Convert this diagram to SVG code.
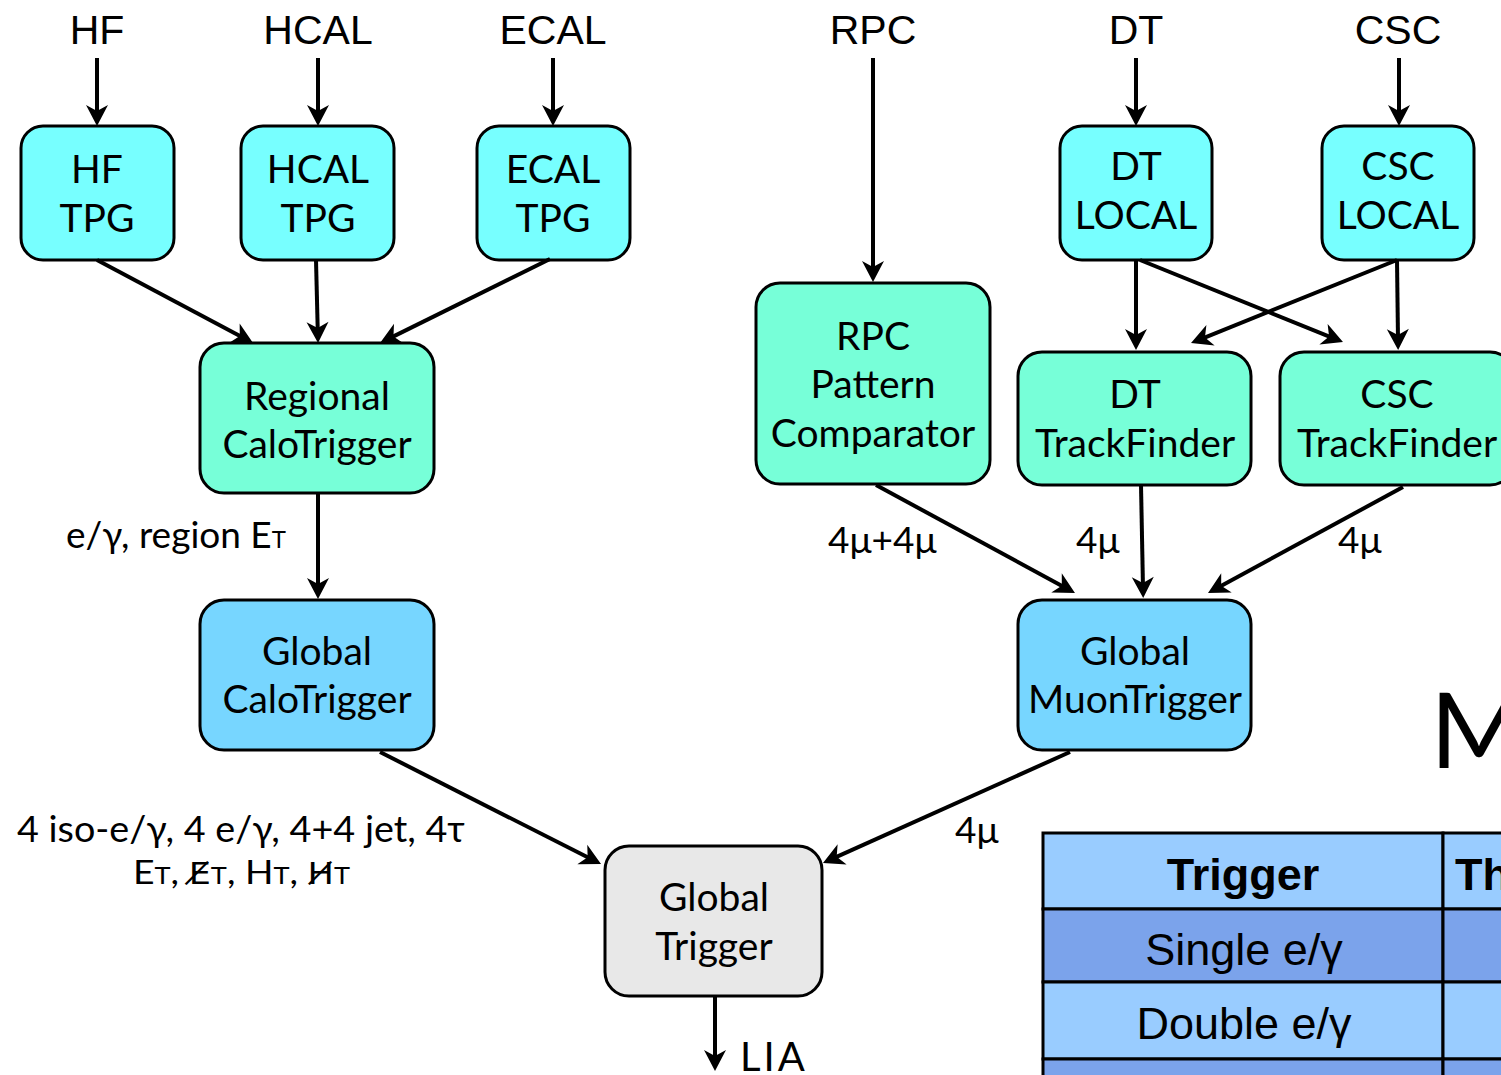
<svg xmlns="http://www.w3.org/2000/svg" width="1501" height="1075" viewBox="0 0 1501 1075">
<defs>
<style>
.box{stroke:#000;stroke-width:3}
.tpg{fill:#77ffff}
.mid{fill:#77ffd8}
.glb{fill:#77d6ff}
.gt{fill:#e8e8e8}
.bt{font-family:Lato,"Noto Sans","DejaVu Sans",sans-serif;font-size:39px;fill:#000;text-anchor:middle}
.src{font-family:"Liberation Sans",Arial,sans-serif;font-size:41px;fill:#000;text-anchor:middle}
.lbl{font-family:Lato,"Noto Sans","DejaVu Sans",sans-serif;font-size:37px;fill:#000}
.sub{font-size:24px}
.dj{font-family:"DejaVu Sans",sans-serif;font-size:31px}
.tbl{font-family:"Liberation Sans",Arial,sans-serif;font-size:45px;fill:#000;text-anchor:middle}
.conn line{stroke:#000;stroke-width:4;marker-end:url(#ah)}
.cell{stroke:#000;stroke-width:3}
</style>
<marker id="ah" markerUnits="userSpaceOnUse" markerWidth="24" markerHeight="24" viewBox="-22 -12 24 24" refX="-10" refY="0" orient="auto">
<path d="M0,0 L-21,-11 L-15,0 L-21,11 Z" fill="#000"/>
</marker>
</defs>
<rect width="1501" height="1075" fill="#fff"/>

<g id="sources">
<text class="src" x="97" y="44">HF</text>
<text class="src" x="318" y="44">HCAL</text>
<text class="src" x="553" y="44">ECAL</text>
<text class="src" x="873" y="44">RPC</text>
<text class="src" x="1136" y="44">DT</text>
<text class="src" x="1398" y="44">CSC</text>
</g>

<g id="hf-tpg"><rect class="box tpg" x="21" y="126" width="153" height="134" rx="22"/>
<text class="bt" x="97" y="183">HF</text><text class="bt" x="97" y="232">TPG</text></g>
<g id="hcal-tpg"><rect class="box tpg" x="241" y="126" width="153" height="134" rx="22"/>
<text class="bt" x="318" y="183">HCAL</text><text class="bt" x="318" y="232">TPG</text></g>
<g id="ecal-tpg"><rect class="box tpg" x="477" y="126" width="153" height="134" rx="22"/>
<text class="bt" x="553" y="183">ECAL</text><text class="bt" x="553" y="232">TPG</text></g>
<g id="dt-local"><rect class="box tpg" x="1060" y="126" width="152" height="134" rx="22"/>
<text class="bt" x="1136" y="180">DT</text><text class="bt" x="1136" y="229">LOCAL</text></g>
<g id="csc-local"><rect class="box tpg" x="1322" y="126" width="152" height="134" rx="22"/>
<text class="bt" x="1398" y="180">CSC</text><text class="bt" x="1398" y="229">LOCAL</text></g>

<g id="regional-calo"><rect class="box mid" x="200" y="343" width="234" height="150" rx="24"/>
<text class="bt" x="317" y="410">Regional</text><text class="bt" x="317" y="458">CaloTrigger</text></g>
<g id="rpc-pac"><rect class="box mid" x="756" y="283" width="234" height="201" rx="24"/>
<text class="bt" x="873" y="350">RPC</text><text class="bt" x="873" y="398">Pattern</text><text class="bt" x="873" y="447">Comparator</text></g>
<g id="dt-tf"><rect class="box mid" x="1018" y="352" width="233" height="133" rx="24"/>
<text class="bt" x="1135" y="408">DT</text><text class="bt" x="1135" y="457">TrackFinder</text></g>
<g id="csc-tf"><rect class="box mid" x="1280" y="352" width="234" height="133" rx="24"/>
<text class="bt" x="1397" y="408">CSC</text><text class="bt" x="1397" y="457">TrackFinder</text></g>

<g id="global-calo"><rect class="box glb" x="200" y="600" width="234" height="150" rx="24"/>
<text class="bt" x="317" y="665">Global</text><text class="bt" x="317" y="713">CaloTrigger</text></g>
<g id="global-muon"><rect class="box glb" x="1018" y="600" width="233" height="150" rx="24"/>
<text class="bt" x="1135" y="665">Global</text><text class="bt" x="1135" y="713">MuonTrigger</text></g>
<g id="global-trigger"><rect class="box gt" x="605" y="846" width="217" height="150" rx="24"/>
<text class="bt" x="714" y="911">Global</text><text class="bt" x="714" y="960">Trigger</text></g>

<g id="connectors" class="conn">
<line x1="97" y1="58" x2="97" y2="116"/>
<line x1="318" y1="58" x2="318" y2="116"/>
<line x1="553" y1="58" x2="553" y2="116"/>
<line x1="873" y1="58" x2="873" y2="272"/>
<line x1="1136" y1="58" x2="1136" y2="116"/>
<line x1="1399" y1="58" x2="1399" y2="116"/>
<line x1="97" y1="260" x2="244.2" y2="338.3"/>
<line x1="316" y1="260" x2="317.8" y2="333"/>
<line x1="550" y1="259" x2="389" y2="338.6"/>
<line x1="318" y1="493" x2="318" y2="589"/>
<line x1="380" y1="752" x2="592.1" y2="859.5"/>
<line x1="1070" y1="752" x2="832.1" y2="858.9"/>
<line x1="715" y1="997" x2="715" y2="1061"/>
<line x1="1136" y1="260" x2="1136" y2="340"/>
<line x1="1140" y1="260" x2="1333.7" y2="338.3"/>
<line x1="1397" y1="260" x2="1200.3" y2="339.3"/>
<line x1="1397" y1="260" x2="1398" y2="340"/>
<line x1="876" y1="485" x2="1066.2" y2="588.2"/>
<line x1="1141" y1="485" x2="1143" y2="588"/>
<line x1="1403" y1="487" x2="1216.8" y2="588.2"/>
</g>

<g id="labels">
<text class="lbl" x="66" y="548">e/γ, region E<tspan class="sub">T</tspan></text>
<text class="lbl" x="828" y="553">4μ+4μ</text>
<text class="lbl" x="1076" y="553">4μ</text>
<text class="lbl" x="1338" y="553">4μ</text>
<text class="lbl" x="955" y="843">4μ</text>
<text class="lbl" x="17" y="842" textLength="448" lengthAdjust="spacingAndGlyphs">4 iso-e/γ, 4 e/γ, 4+4 jet, 4τ</text>
<text class="lbl" x="133" y="884" style="font-size:33px" textLength="217" lengthAdjust="spacingAndGlyphs">E<tspan class="sub">T</tspan>, <tspan class="dj">E̸</tspan><tspan class="sub">T</tspan>, H<tspan class="sub">T</tspan>, <tspan class="dj">H̸</tspan><tspan class="sub">T</tspan></text>
<text class="lbl" x="740" y="1071" style="font-size:40px;letter-spacing:3px">LIA</text>
<text class="lbl" x="1430" y="768" style="font-size:105px">M</text>
</g>

<g id="table">
<rect class="cell" x="1043" y="833" width="400" height="76" fill="#99ccff"/>
<rect class="cell" x="1443" y="833" width="80" height="76" fill="#99ccff"/>
<rect class="cell" x="1043" y="909" width="400" height="73" fill="#7ba3eb"/>
<rect class="cell" x="1443" y="909" width="80" height="73" fill="#7ba3eb"/>
<rect class="cell" x="1043" y="982" width="400" height="77" fill="#99ccff"/>
<rect class="cell" x="1443" y="982" width="80" height="77" fill="#99ccff"/>
<rect class="cell" x="1043" y="1059" width="400" height="40" fill="#7ba3eb"/>
<rect class="cell" x="1443" y="1059" width="80" height="40" fill="#7ba3eb"/>
<text class="tbl" x="1243" y="890" font-weight="bold">Trigger</text>
<text class="tbl" x="1455" y="890" font-weight="bold" style="text-anchor:start">Th</text>
<text class="tbl" x="1244" y="965">Single e/γ</text>
<text class="tbl" x="1244" y="1039">Double e/γ</text>
</g>
</svg>
